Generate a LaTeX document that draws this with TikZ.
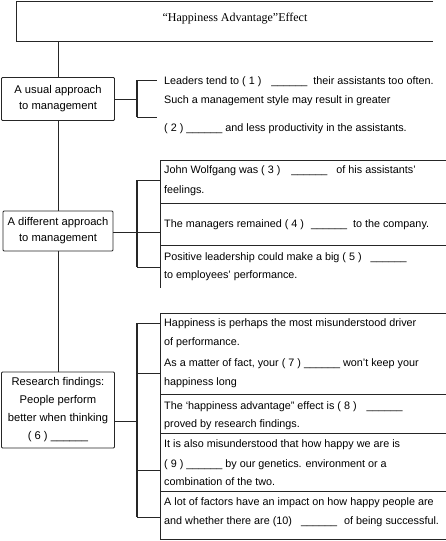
\documentclass[tikz,border=0pt]{standalone}
\usepackage{fontspec}
\setmainfont{Liberation Sans}
\newfontfamily\titlefont{Liberation Serif}
\newcommand{\blnkgap}[1]{\hspace{#1pt}}
\begin{document}
\begin{tikzpicture}[x=1pt,y=-1pt,
  thin line/.style={line width=0.7pt,draw=black!85},
  brk/.style={line width=1.5pt,draw=black!85},
  box/.style={draw=black!85,line width=0.8pt,rounded corners=1pt,align=center,inner sep=0pt,
    font=\fontsize{11.2}{16}\selectfont},
  txt/.style={anchor=base west,inner sep=0pt,font=\fontsize{10.8}{12}\selectfont}]
\useasboundingbox (0,0) rectangle (446,541);
% title
\node[font=\titlefont\fontsize{12}{14}\selectfont,inner sep=0pt] (t) at (235,19) {“Happiness Advantage”Effect};
\coordinate (tne) at (433,1);
\coordinate (tnw) at (16,1);
\coordinate (tsw) at (16,41);
\coordinate (tse) at (433,41);
\draw[thin line] (tne) -- (tnw) -- (tsw) -- (tse);
\coordinate (tb) at (58,41);
% boxes
\node[box,minimum width=113,minimum height=43] (b1) at (58,99) {A usual approach\\to management};
\node[box,minimum width=110,minimum height=40] (b2) at (58,231) {A different approach\\to management};
\node[box,minimum width=113,minimum height=76,font=\fontsize{11.2}{18}\selectfont] (b3) at (58,410) {Research findings:\\People perform\\better when thinking\\( 6 ) \_\_\_\_\_\_};
% trunk
\draw[thin line] (tb) -- (b1.north);
\draw[thin line] (b1.south) -- (b2.north);
\draw[thin line] (b2.south) -- (b3.north);
% bracket 1
\coordinate (k1t) at (137,80);
\coordinate (k1b) at (137,117);
\coordinate (p1t) at (157,80);
\coordinate (p1b) at (157,117);
\draw[thin line] (b1.east) -- (b1.east -| k1t);
\draw[brk] (k1t) -- (k1b);
\draw[thin line] (k1t) -- (p1t);
\draw[thin line] (k1b) -- (p1b);
\node[txt] (l1) at (164,84) {Leaders tend to ( 1 )\blnkgap{7} \_\_\_\_\_\_\blnkgap{3} their assistants too often.};
\node[txt] (l2) at (164,103) {Such a management style may result in greater};
\node[txt] (l3) at (164,131) {( 2 ) \_\_\_\_\_\_ and less productivity in the assistants.};
% panel 2
\coordinate (q2tl) at (160,160);
\coordinate (q2tr) at (446,160);
\coordinate (q2bl) at (160,288);
\coordinate (q2d1l) at (160,203);
\coordinate (q2d1r) at (446,203);
\coordinate (q2d2l) at (160,245);
\coordinate (q2d2r) at (446,245);
\draw[thin line] (q2tr) -- (q2tl) -- (q2bl);
\draw[thin line] (q2d1l) -- (q2d1r);
\draw[thin line] (q2d2l) -- (q2d2r);
\coordinate (k2t) at (137,180);
\coordinate (k2b) at (137,267);
\coordinate (p2t) at (160,180);
\coordinate (p2b) at (160,267);
\coordinate (p2m) at (160,232);
\draw[thin line] (b2.east |- p2m) -- (p2m);
\draw[brk] (k2t) -- (k2b);
\draw[thin line] (k2t) -- (p2t);
\draw[thin line] (k2b) -- (p2b);
\node[txt] (m1) at (164,173) {John Wolfgang was ( 3 )\blnkgap{8} \_\_\_\_\_\_\blnkgap{6} of his assistants'};
\node[txt] (m2) at (164,193) {feelings.};
\node[txt] (m3) at (164,227) {The managers remained ( 4 )\blnkgap{4} \_\_\_\_\_\_\blnkgap{3} to the company.};
\node[txt] (m4) at (164,260) {Positive leadership could make a big ( 5 )\blnkgap{6} \_\_\_\_\_\_};
\node[txt] (m5) at (164,278) {to employees' performance.};
% panel 3
\coordinate (q3tl) at (160,313);
\coordinate (q3tr) at (446,313);
\coordinate (q3bl) at (160,539);
\coordinate (q3br) at (446,539);
\coordinate (q3d1l) at (160,394);
\coordinate (q3d1r) at (446,394);
\coordinate (q3d2l) at (160,433);
\coordinate (q3d2r) at (446,433);
\coordinate (q3d3l) at (160,491);
\coordinate (q3d3r) at (446,491);
\draw[thin line] (q3tr) -- (q3tl) -- (q3bl) -- (q3br);
\draw[thin line] (q3d1l) -- (q3d1r);
\draw[thin line] (q3d2l) -- (q3d2r);
\draw[thin line] (q3d3l) -- (q3d3r);
\coordinate (k3t) at (137,323);
\coordinate (k3b) at (137,517);
\coordinate (k3m) at (137,421);
\coordinate (p3a) at (160,323);
\coordinate (p3b) at (160,373);
\coordinate (p3c) at (160,470);
\coordinate (p3d) at (160,517);
\draw[thin line] (b3.east |- k3m) -- (k3m);
\draw[brk] (k3t) -- (k3b);
\draw[thin line] (k3t) -- (p3a);
\draw[thin line] (k3t |- p3b) -- (p3b);
\draw[thin line] (k3t |- p3c) -- (p3c);
\draw[thin line] (k3b) -- (p3d);
\node[txt] (n1) at (164,326) {Happiness is perhaps the most misunderstood driver};
\node[txt] (n2) at (164,345) {of performance.};
\node[txt] (n3) at (164,366) {As a matter of fact, your ( 7 ) \_\_\_\_\_\_ won't keep your};
\node[txt] (n4) at (164,385) {happiness long};
\node[txt] (n5) at (164,409) {The `happiness advantage" effect is ( 8 )\blnkgap{7} \_\_\_\_\_\_};
\node[txt] (n6) at (164,427) {proved by research findings.};
\node[txt] (n7) at (164,447) {It is also misunderstood that how happy we are is};
\node[txt] (n8) at (164,467) {( 9 ) \_\_\_\_\_\_ by our genetics. environment or a};
\node[txt] (n9) at (164,485) {combination of the two.};
\node[txt] (n10) at (164,505) {A lot of factors have an impact on how happy people are};
\node[txt] (n11) at (164,524) {and whether there are (10)\blnkgap{6} \_\_\_\_\_\_\blnkgap{4} of being successful.};
\end{tikzpicture}
\end{document}
